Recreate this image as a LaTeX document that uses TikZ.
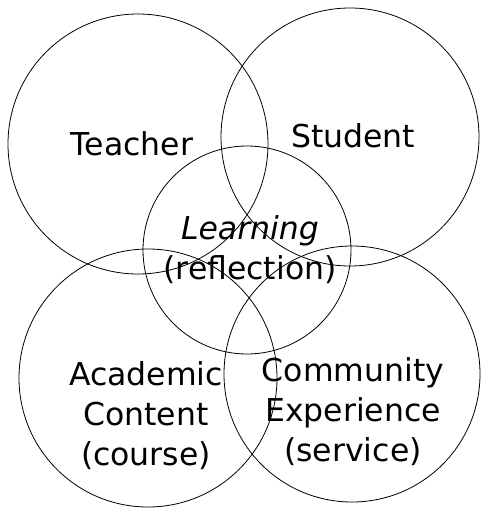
\documentclass[tikz,border=0pt]{standalone}
\usepackage{fontspec}
\setmainfont{DejaVu Sans}

\begin{document}
\begin{tikzpicture}[x=1pt,y=-1pt,
	ring/.style={circle,draw,line width=0.8pt,inner sep=0pt},
	label text/.style={font=\fontsize{31.5}{40}\selectfont,align=center,anchor=base}]
	
	\useasboundingbox (0,0) rectangle (480,508);
	
	\node[ring,minimum size=260pt] (teacher) at (138,144) {};
	\node[ring,minimum size=258pt] (student) at (350,137) {};
	\node[ring,minimum size=208pt] (learning) at (247,250) {};
	\node[ring,minimum size=258pt] (academic) at (148,378) {};
	\node[ring,minimum size=256pt] (community) at (352,374) {};
	
	% multi-line labels sit on the baseline of their last line
	\node[label text] (tlabel) at (132,155) {Teacher};
	\node[label text] (slabel) at (353,147) {Student};
	\node[label text] (llabel) at (250,279) {\itshape Learning\\(reflection)};
	\node[label text] (alabel) at (146,465) {Academic\\Content\\(course)};
	\node[label text] (clabel) at (353,461) {Community\\Experience\\(service)};
\end{tikzpicture}
\end{document}
